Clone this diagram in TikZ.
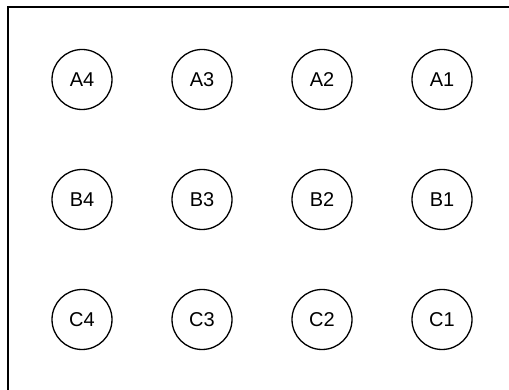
\documentclass[tikz,border=0pt]{standalone}
\usepackage{fontspec}
\setmainfont{Liberation Sans}
\usepackage{tikz}

\tikzset{
	pin/.style={draw, circle, line width=1.3pt, minimum size=60pt, inner sep=0pt,
		font=\fontsize{20}{24}\selectfont}
}

\begin{document}
\begin{tikzpicture}[x=1pt,y=-1pt]
		% Frame of the picture
		\useasboundingbox (0,0) rectangle (509,390);
		\clip (0,0) rectangle (509,390);
		\draw[line width=1.6pt] (8,7) rectangle (540,420);
		% Row A
		\node[pin] (A4) at (82,79.5) {A4};
		\node[pin] (A3) at (202,79.5) {A3};
		\node[pin] (A2) at (322,79.5) {A2};
		\node[pin] (A1) at (442,79.5) {A1};
		% Row B
		\node[pin] (B4) at (82,199.5) {B4};
		\node[pin] (B3) at (202,199.5) {B3};
		\node[pin] (B2) at (322,199.5) {B2};
		\node[pin] (B1) at (442,199.5) {B1};
		% Row C
		\node[pin] (C4) at (82,319.5) {C4};
		\node[pin] (C3) at (202,319.5) {C3};
		\node[pin] (C2) at (322,319.5) {C2};
		\node[pin] (C1) at (442,319.5) {C1};
	\end{tikzpicture}
\end{document}
